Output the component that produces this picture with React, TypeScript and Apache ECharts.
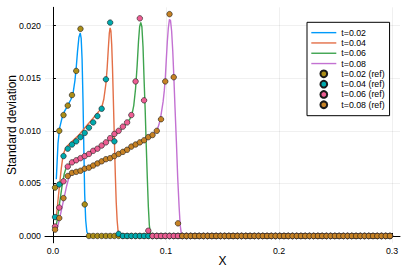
import React, { useEffect, useRef } from "react";
import * as echarts from "echarts";

// cell width of the reference grid (80 cells over [0, 0.3])
const cellWidth = 0.00375;
const refX = Array.from({ length: 80 }, (_, i) => (i + 0.5) * cellWidth);

const ref002 = [
  0.0046, 0.0100, 0.0115, 0.0124, 0.0134, 0.0157, 0.0197, 0.0030,
  0, 0, 0, 0, 0, 0, 0, 0, 0, 0,
  0, 0, 0, 0, 0, 0, 0, 0, 0, 0,
  0, 0, 0, 0, 0, 0, 0, 0, 0, 0,
  0, 0, 0, 0, 0, 0, 0, 0, 0, 0,
  0, 0, 0, 0, 0, 0, 0, 0, 0, 0,
  0, 0, 0, 0, 0, 0, 0, 0, 0, 0,
  0, 0, 0, 0, 0, 0, 0, 0, 0, 0,
  0, 0,
];
const ref004 = [
  0.0018, 0.0049, 0.0076, 0.0083, 0.0087, 0.0090, 0.0094, 0.0098, 0.0103, 0.0108,
  0.0114, 0.0121, 0.0149, 0.0203, 0.0090, 0.0002,
  0, 0, 0, 0, 0, 0, 0, 0, 0, 0,
  0, 0, 0, 0, 0, 0, 0, 0, 0, 0,
  0, 0, 0, 0, 0, 0, 0, 0, 0, 0,
  0, 0, 0, 0, 0, 0, 0, 0, 0, 0,
  0, 0, 0, 0, 0, 0, 0, 0, 0, 0,
  0, 0, 0, 0, 0, 0, 0, 0, 0, 0,
  0, 0, 0, 0,
];
const ref006 = [
  0.0009, 0.0027, 0.0052, 0.0066, 0.0070, 0.0072, 0.0074, 0.0076, 0.0078, 0.0081,
  0.0083, 0.0086, 0.0089, 0.0093, 0.0097, 0.0100, 0.0104, 0.0108, 0.0115, 0.0147,
  0.0207, 0.0129, 0.0005,
  0, 0, 0, 0, 0, 0, 0, 0, 0, 0,
  0, 0, 0, 0, 0, 0, 0, 0, 0, 0,
  0, 0, 0, 0, 0, 0, 0, 0, 0, 0,
  0, 0, 0, 0, 0, 0, 0, 0, 0, 0,
  0, 0, 0, 0, 0, 0, 0, 0, 0, 0,
  0, 0, 0, 0, 0, 0, 0,
];
const ref008 = [
  0.0006, 0.0017, 0.0036, 0.0057, 0.0060, 0.0061, 0.0062, 0.0064, 0.0065, 0.0067,
  0.0069, 0.0071, 0.0073, 0.0074, 0.0076, 0.0078, 0.0080, 0.0082, 0.0085, 0.0087,
  0.0089, 0.0091, 0.0094, 0.0096, 0.0100, 0.0111, 0.0147, 0.0211, 0.0151, 0.0012,
  0, 0, 0, 0, 0, 0, 0, 0, 0, 0,
  0, 0, 0, 0, 0, 0, 0, 0, 0, 0,
  0, 0, 0, 0, 0, 0, 0, 0, 0, 0,
  0, 0, 0, 0, 0, 0, 0, 0, 0, 0,
  0, 0, 0, 0, 0, 0, 0, 0, 0, 0,
];

const lineX002 = [0.0030, 0.0045, 0.0060, 0.0080, 0.0100, 0.0130, 0.0160, 0.0180, 0.0195, 0.0206, 0.0218, 0.0230, 0.0242, 0.0250, 0.0258, 0.0266, 0.0274, 0.0281, 0.0290, 0.0300, 0.0312, 0.0325, 0.2981];
const lineY002 = [0.0054, 0.0088, 0.0103, 0.0112, 0.0118, 0.0124, 0.0130, 0.0137, 0.0148, 0.0160, 0.0176, 0.0189, 0.0193, 0.0188, 0.0168, 0.0130, 0.0080, 0.0040, 0.0015, 0.0004, 0.0001, 0, 0];

const lineX004 = [0.0030, 0.0045, 0.0060, 0.0075, 0.0090, 0.0110, 0.0140, 0.0180, 0.0220, 0.0260, 0.0300, 0.0340, 0.0380, 0.0410, 0.0431, 0.0450, 0.0469, 0.0480, 0.0490, 0.0499, 0.0506, 0.0513, 0.0520, 0.0527, 0.0535, 0.0544, 0.0552, 0.0560, 0.0568, 0.0576, 0.0586, 0.0600, 0.2981];
const lineY004 = [0.0018, 0.0034, 0.0050, 0.0065, 0.0077, 0.0083, 0.0087, 0.0091, 0.0095, 0.0100, 0.0105, 0.0110, 0.0115, 0.0119, 0.0122, 0.0130, 0.0145, 0.0160, 0.0178, 0.0193, 0.0198, 0.0195, 0.0182, 0.0160, 0.0128, 0.0090, 0.0058, 0.0032, 0.0015, 0.0005, 0.0001, 0, 0];

const lineX006 = [0.0030, 0.0045, 0.0060, 0.0080, 0.0100, 0.0120, 0.0150, 0.0200, 0.0250, 0.0300, 0.0350, 0.0400, 0.0450, 0.0500, 0.0550, 0.0600, 0.0650, 0.0680, 0.0700, 0.0715, 0.0731, 0.0745, 0.0757, 0.0767, 0.0777, 0.0787, 0.0797, 0.0806, 0.0816, 0.0825, 0.0835, 0.0844, 0.0853, 0.0862, 0.0875, 0.2981];
const lineY006 = [0.0010, 0.0020, 0.0032, 0.0047, 0.0059, 0.0066, 0.0069, 0.0073, 0.0075, 0.0078, 0.0081, 0.0084, 0.0088, 0.0092, 0.0096, 0.0101, 0.0107, 0.0111, 0.0116, 0.0124, 0.0140, 0.0162, 0.0185, 0.0199, 0.0203, 0.0199, 0.0180, 0.0150, 0.0120, 0.0088, 0.0055, 0.0028, 0.0010, 0.0003, 0, 0];

const lineX008 = [0.0030, 0.0045, 0.0060, 0.0080, 0.0100, 0.0120, 0.0140, 0.0160, 0.0200, 0.0300, 0.0400, 0.0500, 0.0600, 0.0700, 0.0800, 0.0880, 0.0919, 0.0938, 0.0956, 0.0975, 0.0985, 0.0994, 0.1003, 0.1012, 0.1021, 0.1031, 0.1040, 0.1050, 0.1060, 0.1069, 0.1080, 0.1092, 0.1104, 0.1116, 0.1126, 0.1136, 0.1150, 0.2981];
const lineY008 = [0.0005, 0.0010, 0.0017, 0.0027, 0.0037, 0.0047, 0.0055, 0.0059, 0.0061, 0.0064, 0.0068, 0.0073, 0.0079, 0.0085, 0.0091, 0.0096, 0.0100, 0.0106, 0.0115, 0.0128, 0.0138, 0.0150, 0.0168, 0.0185, 0.0198, 0.0206, 0.0205, 0.0195, 0.0176, 0.0153, 0.0122, 0.0090, 0.0055, 0.0028, 0.0010, 0.0002, 0, 0];

const lineNames = ["t=0.02", "t=0.04", "t=0.06", "t=0.08"];
const refNames = ["t=0.02 (ref)", "t=0.04 (ref)", "t=0.06 (ref)", "t=0.08 (ref)"];
const lineColors = ["#009AFA", "#E36F47", "#3EA44E", "#C371D2"];
const refColors = ["#AC8E18", "#00AAAE", "#ED5E93", "#C68225"];

const xTicks = [0, 0.1, 0.2, 0.3];
const yTicks = [0, 0.005, 0.01, 0.015, 0.02];

const FONT = "Liberation Sans, Arial, Helvetica, sans-serif";
const LINE_ICON = "path://M0,0L25,0L25,1.4L0,1.4Z";

const zip = (xs: number[], ys: number[]) => xs.map((x, i) => [x, ys[i]]);

export default function App() {
  const ref = useRef<HTMLDivElement>(null);
  useEffect(() => {
    if (!ref.current) return;
    const chart = echarts.init(ref.current, undefined, { renderer: "svg" });
    const lines = [
      zip(lineX002, lineY002),
      zip(lineX004, lineY004),
      zip(lineX006, lineY006),
      zip(lineX008, lineY008),
    ];
    const refs = [ref002, ref004, ref006, ref008];
    const series: any[] = [];
    lines.forEach((d, k) => {
      series.push({
        name: lineNames[k],
        type: "line",
        data: d,
        showSymbol: false,
        symbol: "none",
        lineStyle: { color: lineColors[k], width: 1.4 },
        itemStyle: { color: lineColors[k] },
        z: 2,
      });
    });
    refs.forEach((ys, k) => {
      series.push({
        name: refNames[k],
        type: "scatter",
        data: zip(refX, ys),
        symbol: "circle",
        symbolSize: 5.5,
        itemStyle: { color: refColors[k], borderColor: "#1a1a1a", borderWidth: 0.6, opacity: 1 },
        z: 3,
      });
    });
    chart.setOption({
      animation: false,
      backgroundColor: "#fff",
      textStyle: { fontFamily: FONT },
      grid: {
        left: 45,
        top: 7.3,
        width: 355,
        height: 235.5,
        containLabel: false,
        outerBoundsMode: "none",
      },
      xAxis: {
        type: "value",
        min: -0.007,
        max: 0.307,
        name: "X",
        nameLocation: "middle",
        nameGap: 12,
        nameMoveOverlap: false,
        nameTextStyle: { fontSize: 12, color: "#000", fontFamily: FONT },
        axisLine: { show: true, lineStyle: { color: "#000", width: 1 } },
        axisTick: { show: true, inside: true, length: 3, customValues: xTicks, lineStyle: { color: "#000" } },
        axisLabel: {
          customValues: xTicks,
          formatter: (v: number) => v.toFixed(1),
          fontSize: 8.8,
          color: "#000",
          margin: 4,
          fontFamily: FONT,
        },
        splitLine: { show: true, customValues: xTicks, lineStyle: { color: "rgba(0,0,0,0.1)", width: 0.6 } },
      },
      yAxis: {
        type: "value",
        min: -0.00065,
        max: 0.02175,
        name: "Standard deviation",
        nameLocation: "middle",
        nameGap: 27,
        nameRotate: 90,
        nameMoveOverlap: false,
        nameTextStyle: { fontSize: 12, color: "#000", fontFamily: FONT },
        axisLine: { show: true, lineStyle: { color: "#000", width: 1 } },
        axisTick: { show: true, inside: true, length: 3, customValues: yTicks, lineStyle: { color: "#000" } },
        axisLabel: {
          customValues: yTicks,
          formatter: (v: number) => v.toFixed(3),
          fontSize: 8.8,
          color: "#000",
          margin: 4,
          fontFamily: FONT,
        },
        splitLine: { show: true, customValues: yTicks, lineStyle: { color: "rgba(0,0,0,0.1)", width: 0.6 } },
      },
      legend: {
        orient: "vertical",
        left: 307,
        top: 22.3,
        padding: [5.2, 5, 5.8, 4.3],
        borderColor: "#000",
        borderWidth: 1,
        backgroundColor: "#fff",
        itemWidth: 25,
        itemHeight: 6.7,
        itemGap: 0,
        z: 10,
        textStyle: { fontSize: 8.8, lineHeight: 10.3, color: "#000", fontFamily: FONT },
        data: [
          ...lineNames.map((n, k) => ({
            name: n,
            icon: LINE_ICON,
            itemStyle: { color: lineColors[k], borderWidth: 0 },
            lineStyle: { width: 0 },
          })),
          ...refNames.map((n) => ({ name: n, icon: "circle" })),
        ],
      },
      series,
    });
    return () => chart.dispose();
  }, []);
  return (
    <div
      ref={ref}
      style={{ position: "fixed", left: 0, top: 0, width: 409, height: 273, background: "#fff" }}
    />
  );
}
